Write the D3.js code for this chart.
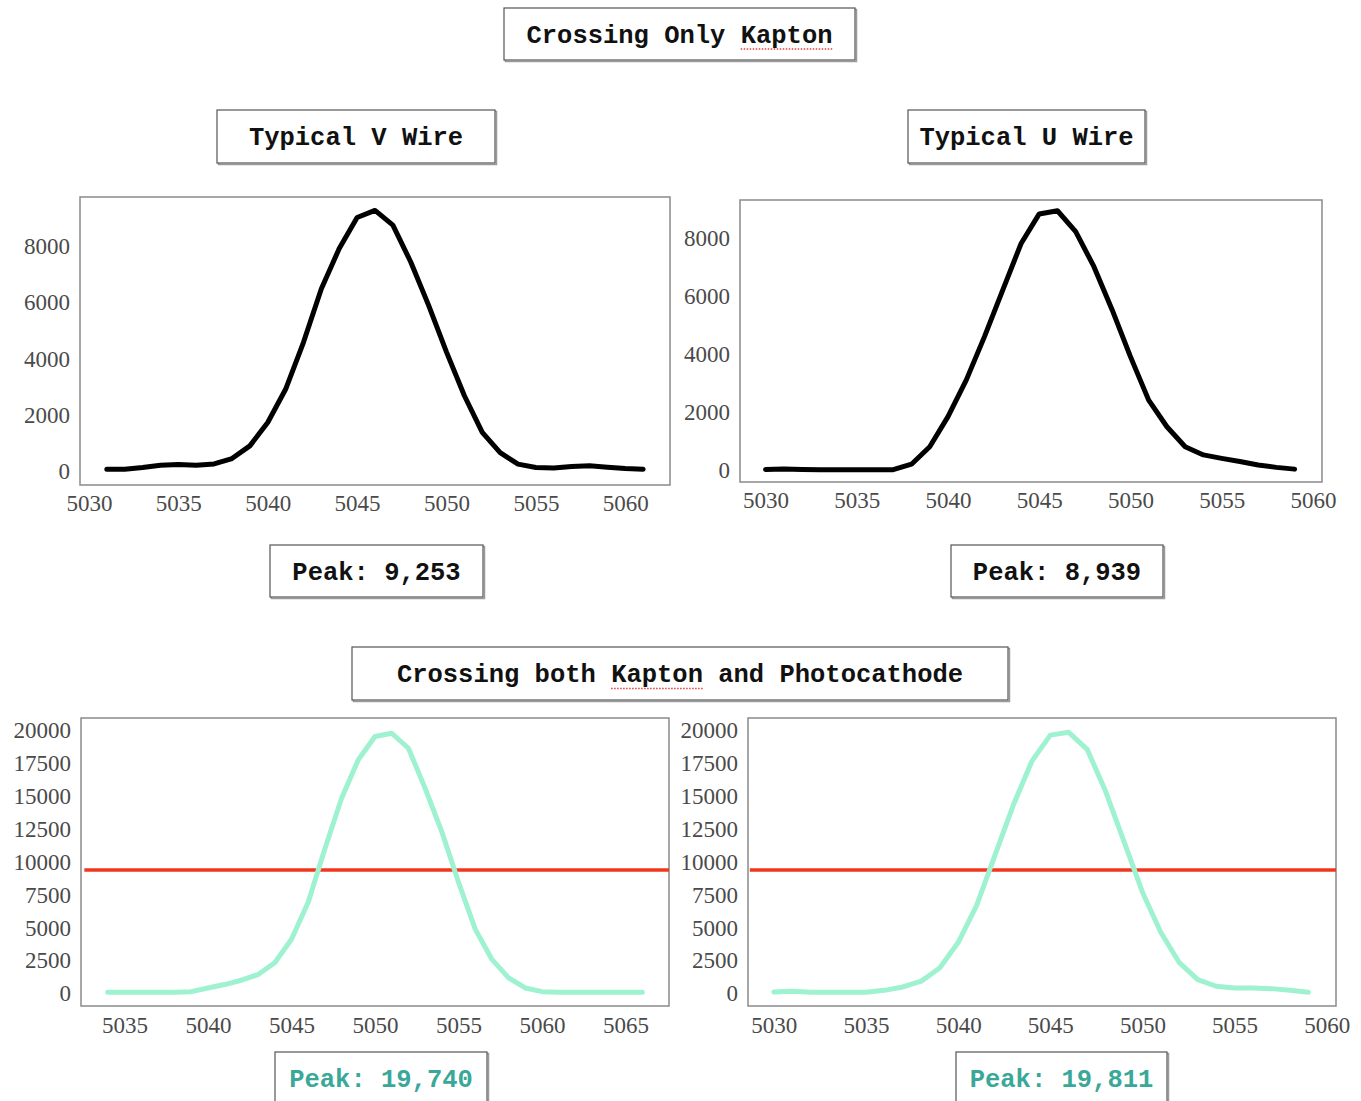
<!DOCTYPE html>
<html>
<head>
<meta charset="utf-8">
<script src="https://cdn.jsdelivr.net/npm/d3@7"></script>
<style>
  body { margin: 0; background: #fff; }
  svg { display: block; }
</style>
</head>
<body>
<script>
  // channel numbers (x) and counts (y) for each wire
  const vWireX = [5031, 5032, 5033, 5034, 5035, 5036, 5037, 5038, 5039, 5040, 5041, 5042, 5043, 5044, 5045, 5046,
    5047, 5048, 5049, 5050, 5051, 5052, 5053, 5054, 5055, 5056, 5057, 5058, 5059, 5060, 5061];
  const vWireY = [60, 60, 120, 200, 225, 200, 250, 440, 890, 1720, 2900, 4570, 6470, 7900, 9000, 9253,
    8730, 7420, 5880, 4220, 2670, 1370, 650, 240, 120, 100, 155, 180, 130, 85, 60];

  const uWireX = [5030, 5031, 5032, 5033, 5034, 5035, 5036, 5037, 5038, 5039, 5040, 5041, 5042, 5043, 5044, 5045,
    5046, 5047, 5048, 5049, 5050, 5051, 5052, 5053, 5054, 5055, 5056, 5057, 5058, 5059];
  const uWireY = [20, 30, 15, 10, 10, 10, 10, 10, 200, 800, 1840, 3100, 4600, 6200, 7800, 8830,
    8939, 8220, 7010, 5520, 3910, 2410, 1490, 800, 520, 400, 290, 170, 90, 30];

  const vBothX = [5034, 5035, 5036, 5037, 5038, 5039, 5040, 5041, 5042, 5043, 5044, 5045, 5046, 5047, 5048, 5049,
    5050, 5051, 5052, 5053, 5054, 5055, 5056, 5057, 5058, 5059, 5060, 5061, 5062, 5063, 5064, 5065, 5066];
  const vBothY = [50, 50, 50, 50, 50, 100, 380, 640, 970, 1400, 2300, 4080, 6900, 10970, 14800, 17730,
    19500, 19740, 18600, 15560, 12250, 8420, 4850, 2550, 1150, 380, 100, 50, 50, 50, 50, 50, 50];

  const uBothX = [5030, 5031, 5032, 5033, 5034, 5035, 5036, 5037, 5038, 5039, 5040, 5041, 5042, 5043, 5044, 5045,
    5046, 5047, 5048, 5049, 5050, 5051, 5052, 5053, 5054, 5055, 5056, 5057, 5058, 5059];
  const uBothY = [80, 130, 60, 50, 50, 60, 200, 460, 900, 1900, 3830, 6640, 10470, 14300, 17620, 19600,
    19811, 18520, 15330, 11500, 7660, 4600, 2300, 1020, 510, 380, 380, 330, 200, 50];

  // threshold line in the lower panels
  const cutLeftX = [5032.6, 5067.6];
  const cutRightX = [5028.7, 5060.5];
  const cutY = [9350, 9350];

  // tick labels
  const xTicksTop = [5030, 5035, 5040, 5045, 5050, 5055, 5060];
  const yTicksTop = [0, 2000, 4000, 6000, 8000];
  const xTicksBotLeft = [5035, 5040, 5045, 5050, 5055, 5060, 5065];
  const xTicksBotRight = [5030, 5035, 5040, 5045, 5050, 5055, 5060];
  const yTicksBot = [0, 2500, 5000, 7500, 10000, 12500, 15000, 17500, 20000];

  const titles = ['Crossing Only Kapton', 'Typical V Wire', 'Typical U Wire', 'Crossing both Kapton and Photocathode'];
  const peaks = ['Peak: 9,253', 'Peak: 8,939', 'Peak: 19,740', 'Peak: 19,811'];

  const w = 1361;
  const h = 1101;
  const black = '#000';
  const teal = '#9ef2d0';
  const red = '#f2361c';
  const tealText = '#3aa898';

  const svg = d3.select('body').append('svg').attr('width', w).attr('height', h);

  const panels = [
    { box: [80, 197, 670, 485], xd: [5029.5, 5062.5], yd: [-500, 9730], xs: vWireX, ys: vWireY,
      xt: xTicksTop, yt: yTicksTop, color: black, width: 5, pad: 14 },
    { box: [740, 200, 1322, 482], xd: [5028.6, 5060.5], yd: [-414, 9310], xs: uWireX, ys: uWireY,
      xt: xTicksTop, yt: yTicksTop, color: black, width: 5, pad: 14 },
    { box: [81, 718, 669, 1006], xd: [5032.4, 5067.6], yd: [-990, 20900], xs: vBothX, ys: vBothY,
      xt: xTicksBotLeft, yt: yTicksBot, color: teal, width: 5, pad: 15, cut: cutLeftX },
    { box: [748, 718, 1336, 1006], xd: [5028.6, 5060.5], yd: [-990, 20900], xs: uBothX, ys: uBothY,
      xt: xTicksBotRight, yt: yTicksBot, color: teal, width: 5, pad: 15, cut: cutRightX }
  ];

  panels.forEach((p) => {
    const [x0, y0, x1, y1] = p.box;
    const x = d3.scaleLinear().domain(p.xd).range([x0, x1]);
    const y = d3.scaleLinear().domain(p.yd).range([y1, y0]);
    const g = svg.append('g');

    g.append('rect')
      .attr('x', x0).attr('y', y0)
      .attr('width', x1 - x0).attr('height', y1 - y0)
      .attr('fill', 'none')
      .attr('stroke', '#8a8a8a')
      .attr('stroke-width', 1.5);

    const xAxis = d3.axisBottom(x).tickValues(p.xt).tickSize(0).tickPadding(p.pad).tickFormat(d3.format('d'));
    const ax = g.append('g')
      .attr('transform', 'translate(0,' + y1 + ')')
      .call(xAxis);
    const yAxis = d3.axisLeft(y).tickValues(p.yt).tickSize(0).tickPadding(10).tickFormat(d3.format('d'));
    const ay = g.append('g')
      .attr('transform', 'translate(' + x0 + ',0)')
      .call(yAxis);
    [ax, ay].forEach((a) => {
      a.select('.domain').remove();
      a.selectAll('text')
        .attr('fill', '#4a4a4a')
        .style('font-family', '"Liberation Serif", serif')
        .style('font-size', '23px');
    });
    ax.selectAll('text').attr('dy', '0.5em');
    ay.selectAll('text').attr('dy', '0.34em');

    const line = d3.line().x((d) => x(d[0])).y((d) => y(d[1]));

    if (p.cut) {
      g.append('path')
        .datum(d3.zip(p.cut, cutY))
        .attr('d', line)
        .attr('fill', 'none')
        .attr('stroke', red)
        .attr('stroke-width', 3.5);
    }

    g.append('path')
      .datum(d3.zip(p.xs, p.ys))
      .attr('d', line)
      .attr('fill', 'none')
      .attr('stroke', p.color)
      .attr('stroke-width', p.width)
      .attr('stroke-linejoin', 'round')
      .attr('stroke-linecap', 'round');
  });

  // boxed labels
  const labels = [
    { text: titles[0], box: [504, 8, 855, 60], color: '#111', mark: 'Kapton' },
    { text: titles[1], box: [217, 110, 495, 163], color: '#111' },
    { text: titles[2], box: [908, 110, 1145, 163], color: '#111' },
    { text: peaks[0], box: [270, 545, 483, 597], color: '#111' },
    { text: peaks[1], box: [951, 545, 1163, 597], color: '#111' },
    { text: titles[3], box: [352, 647, 1008, 700], color: '#111', mark: 'Kapton' },
    { text: peaks[2], box: [275, 1052, 487, 1112], color: tealText, cy: 1078 },
    { text: peaks[3], box: [956, 1052, 1167, 1112], color: tealText, cy: 1078 }
  ];

  labels.forEach((l) => {
    const [x0, y0, x1, y1] = l.box;
    const g = svg.append('g');
    g.append('rect')
      .attr('x', x0 + 1.5).attr('y', y0 + 1.5)
      .attr('width', x1 - x0).attr('height', y1 - y0)
      .attr('fill', 'none')
      .attr('stroke', '#9a9a9a')
      .attr('stroke-width', 1.5);
    g.append('rect')
      .attr('x', x0).attr('y', y0)
      .attr('width', x1 - x0).attr('height', y1 - y0)
      .attr('fill', '#fff')
      .attr('stroke', '#555')
      .attr('stroke-width', 1.2);
    const cy = l.cy || (y0 + y1) / 2;
    const t = g.append('text')
      .attr('x', (x0 + x1) / 2)
      .attr('y', cy)
      .attr('dy', '0.35em')
      .attr('text-anchor', 'middle')
      .attr('fill', l.color)
      .style('font-family', '"Liberation Mono", monospace')
      .style('font-weight', 'bold')
      .style('font-size', '25.5px')
      .text(l.text);
    if (l.mark) {
      const i = l.text.indexOf(l.mark);
      const node = t.node();
      const full = node.getComputedTextLength();
      const start = (x0 + x1) / 2 - full / 2 + node.getSubStringLength(0, i);
      const len = node.getSubStringLength(i, l.mark.length);
      g.append('line')
        .attr('x1', start).attr('x2', start + len)
        .attr('y1', cy + 15).attr('y2', cy + 15)
        .attr('stroke', '#e04040')
        .attr('stroke-width', 1.5)
        .attr('stroke-dasharray', '1.5,1.5');
    }
  });
</script>
</body>
</html>
